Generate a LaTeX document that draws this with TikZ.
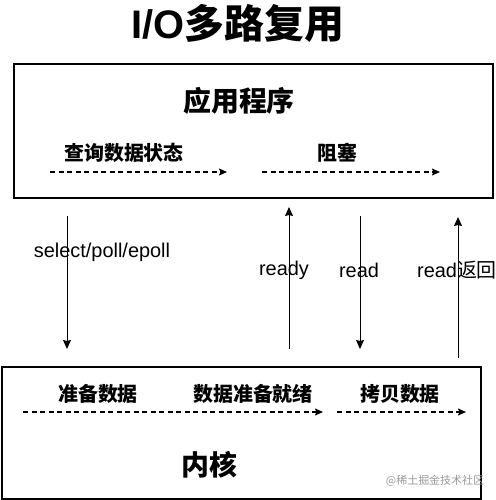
\documentclass[tikz,border=0pt]{standalone}
\usepackage{fontspec}
\setmainfont{Liberation Sans}
\newfontfamily\cjk{Noto Sans CJK SC}
\usetikzlibrary{arrows.meta}

\begin{document}
\begin{tikzpicture}[x=1bp,y=-1bp,
  layerbox/.style={draw=black,line width=2bp},
  biglabel/.style={font=\cjk\bfseries\fontsize{28}{32}\selectfont,inner sep=0pt},
  stagelabel/.style={font=\cjk\bfseries\fontsize{20}{23}\selectfont,inner sep=0pt},
  calllabel/.style={font=\fontsize{20}{24}\selectfont,inner sep=0pt},
  flow/.style={line width=1.5bp,dash pattern=on 5bp off 3.5bp,-{Stealth[length=8bp,width=7bp,inset=1.5bp]}},
  call/.style={line width=1bp,-{Stealth[length=9bp,width=8bp,inset=1bp]}}]
\useasboundingbox (0,0) rectangle (496,500);
\node[inner sep=0pt] (title) at (238,23) {\fontsize{40}{44}\selectfont\bfseries I/O{\cjk 多路复用}};
% application layer
\draw[layerbox] (14,64) rectangle (493,198);
\node[biglabel] (app) at (239,101) {应用程序};
\node[stagelabel] (poll) at (124,153) {查询数据状态}; \node[stagelabel] (block) at (337,153) {阻塞};
\coordinate (a1) at (50,172); \coordinate (a2) at (227,172); \coordinate (a3) at (262,172); \coordinate (a4) at (440,172);
\draw[flow] (a1) -- (a2); \draw[flow] (a3) -- (a4);
% kernel layer
\draw[layerbox] (2,367) rectangle (481,499);
\node[stagelabel] (prep) at (98,394) {准备数据}; \node[stagelabel] (ready data) at (253,394) {数据准备就绪}; \node[stagelabel] (copy) at (400,394) {拷贝数据};
\coordinate (k1) at (23,412); \coordinate (k2) at (323,412); \coordinate (k3) at (337,412); \coordinate (k4) at (466,412);
\draw[flow] (k1) -- (k2); \draw[flow] (k3) -- (k4);
\node[biglabel] (kernel) at (209,465) {内核};
\node[font=\cjk\fontsize{11}{13}\selectfont,text=black!40,inner sep=0pt] (mark) at (435,481) {@稀土掘金技术社区};
% calls between the layers
\coordinate (s1) at (67,216); \coordinate (s2) at (67,349);
\coordinate (r1) at (289,349); \coordinate (r2) at (289,207);
\coordinate (d1) at (360,216); \coordinate (d2) at (360,349);
\coordinate (b1) at (458,358); \coordinate (b2) at (458,217);
\draw[call] (s1) -- (s2); \draw[call] (r1) -- (r2); \draw[call] (d1) -- (d2); \draw[call] (b1) -- (b2);
\node[calllabel] (select) at (102,252) {select/poll/epoll};
\node[calllabel] (rdy) at (284,270) {ready}; \node[calllabel] (rd) at (359,270) {read};
\node[calllabel] (rdret) at (457,270) {read{\cjk 返回}};
\end{tikzpicture}
\end{document}
